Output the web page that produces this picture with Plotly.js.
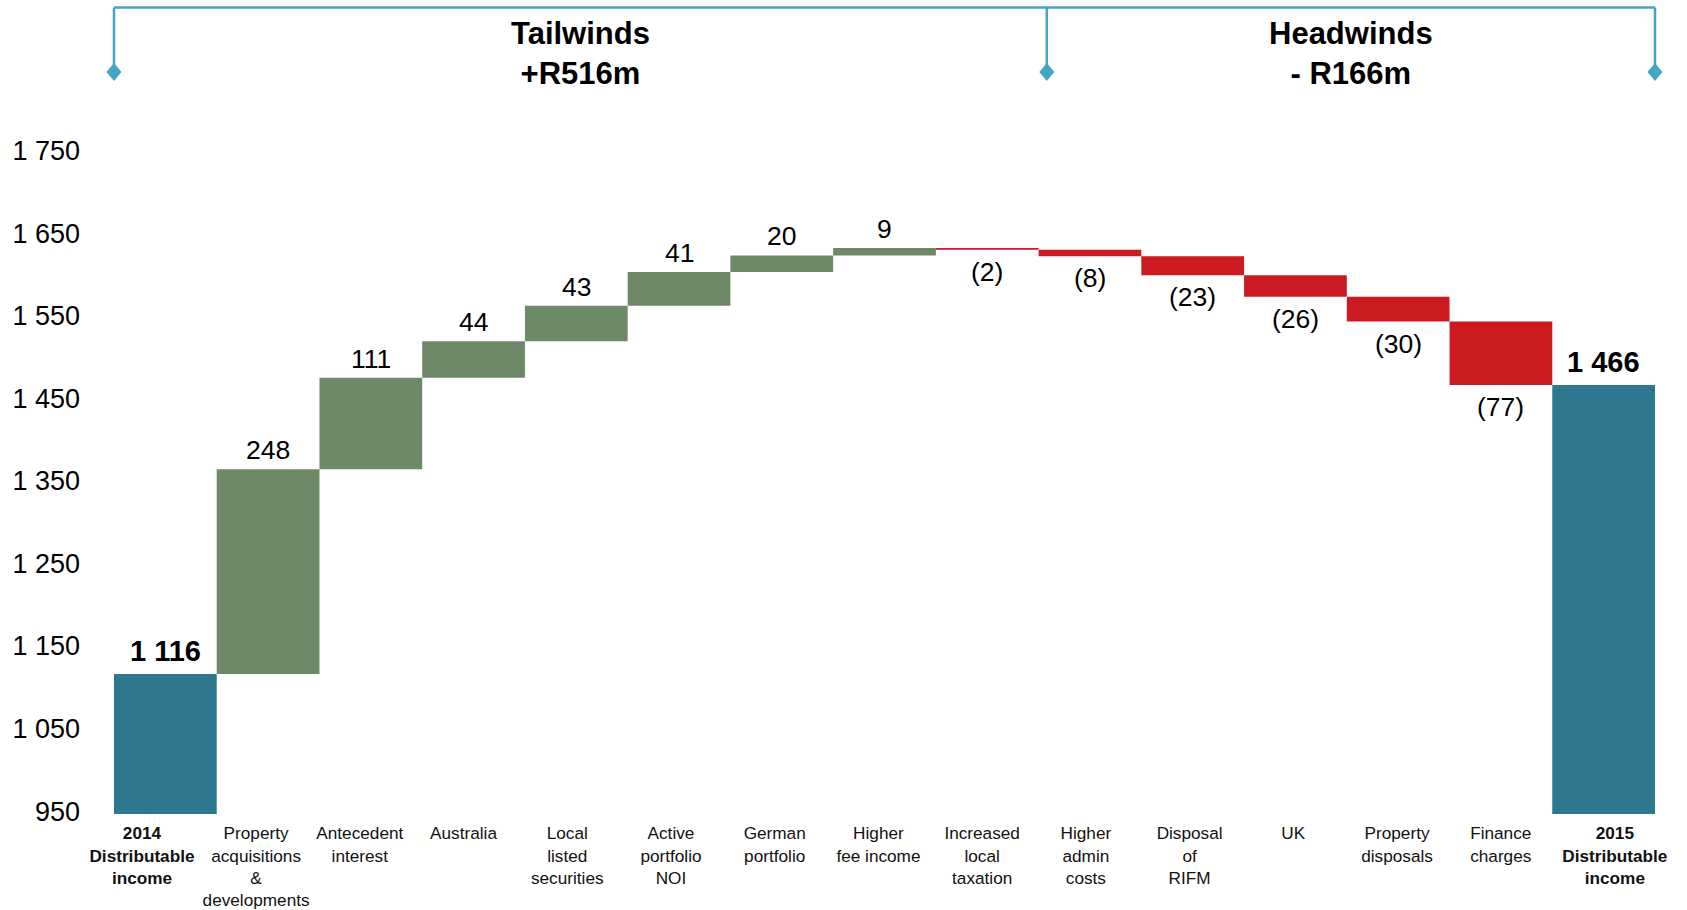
<!DOCTYPE html>
<html>
<head>
<meta charset="utf-8">
<script src="https://cdn.plot.ly/plotly-3.0.1.min.js"></script>
<style>
  html, body { margin: 0; padding: 0; background: #ffffff; }
  #chart { width: 1687px; height: 910px; }
</style>
</head>
<body>
<div id="chart"></div>
<script>
// Distributable income bridge, 2014 -> 2015 (R million)
const categories = [
  '<b>2014<br>Distributable<br>income</b>',
  'Property<br>acquisitions<br>&amp;<br>developments',
  'Antecedent<br>interest',
  'Australia',
  'Local<br>listed<br>securities',
  'Active<br>portfolio<br>NOI',
  'German<br>portfolio',
  'Higher<br>fee income',
  'Increased<br>local<br>taxation',
  'Higher<br>admin<br>costs',
  'Disposal<br>of<br>RIFM',
  'UK',
  'Property<br>disposals',
  'Finance<br>charges',
  '<b>2015<br>Distributable<br>income</b>'
];
const values = [1116, 248, 111, 44, 43, 41, 20, 9, -2, -8, -23, -26, -30, -77, 1466];
const measures = ['absolute', 'relative', 'relative', 'relative', 'relative', 'relative', 'relative',
  'relative', 'relative', 'relative', 'relative', 'relative', 'relative', 'relative', 'absolute'];

const yTickValues = [950, 1050, 1150, 1250, 1350, 1450, 1550, 1650, 1750];
const yTickLabels = ['950', '1 050', '1 150', '1 250', '1 350', '1 450', '1 550', '1 650', '1 750'];

const groupNames = ['Tailwinds', 'Headwinds'];

const COLORS = {
  total: '#2E788F',
  up: '#6E8967',
  down: '#CC1A21',
  bracket: '#45A5C6',
  text: '#000000'
};
const FONT = 'Liberation Sans, Arial, Helvetica, sans-serif';

function withSpaces(v) {
  return String(v).replace(/\B(?=(\d{3})+(?!\d))/g, ' ');
}

// running level at the end of each step
const ends = [];
let level = 0;
values.forEach((v, i) => {
  level = measures[i] === 'absolute' ? v : level + v;
  ends.push(level);
});

const tailTotal = values.filter((v, i) => measures[i] === 'relative' && v > 0).reduce((a, b) => a + b, 0);
const headTotal = values.filter((v, i) => measures[i] === 'relative' && v < 0).reduce((a, b) => a - b, 0);

const n = categories.length;

const steps = {
  type: 'waterfall',
  x: categories.map((c, i) => i),
  y: values,
  measure: measures,
  textinfo: 'none',
  hoverinfo: 'skip',
  connector: { visible: false },
  increasing: { marker: { color: COLORS.up, line: { width: 0 } } },
  decreasing: { marker: { color: COLORS.down, line: { width: 0 } } },
  totals: { marker: { color: COLORS.total, line: { width: 0 } } },
  cliponaxis: false
};

// carrier for the category label axis (labels sit on a slightly wider pitch than the bars)
const labelCarrier = {
  type: 'scatter', mode: 'markers',
  x: [0, n - 1], y: [yTickValues[0], yTickValues[0]],
  xaxis: 'x2', yaxis: 'y',
  marker: { opacity: 0, size: 1 },
  hoverinfo: 'skip', showlegend: false
};

// the bold end labels are nudged outward
const labelPos = categories.map((c, i) => i === 0 ? i - 0.1 : (i === n - 1 ? i + 0.1 : i));

// value labels on the bars
const annotations = values.map((v, i) => {
  let text, yshift, size = 26.5;
  if (measures[i] === 'absolute') {
    text = '<b>' + withSpaces(v) + '</b>';
    yshift = 23;
    size = 29;
  } else if (v >= 0) {
    text = String(v);
    yshift = 19;
  } else {
    text = '(' + (-v) + ')';
    yshift = -22;
  }
  return {
    x: i, y: ends[i], xref: 'x', yref: 'y',
    text: text, showarrow: false, yshift: yshift,
    xanchor: 'center', yanchor: 'middle',
    font: { family: FONT, size: size, color: COLORS.text }
  };
});

// bracket over the two groups (paper x: bar edges and the split point)
const bracketTop = 1.1217;
const bracketFoot = 1.032;
const bracketX = [0, 9.08 / n, 1];

annotations.push({
  x: (bracketX[0] + bracketX[1]) / 2, y: 1.0575, xref: 'paper', yref: 'paper',
  text: '<b>' + groupNames[0] + '<br>+R' + tailTotal + 'm</b>', showarrow: false,
  xanchor: 'center', yanchor: 'middle',
  font: { family: FONT, size: 31, color: COLORS.text }
});
annotations.push({
  x: (bracketX[1] + bracketX[2]) / 2, y: 1.0575, xref: 'paper', yref: 'paper',
  text: '<b>' + groupNames[1] + '<br>- R' + headTotal + 'm</b>', showarrow: false,
  xanchor: 'center', yanchor: 'middle',
  font: { family: FONT, size: 31, color: COLORS.text }
});

const shapes = [{
  type: 'line', xref: 'paper', yref: 'paper',
  x0: bracketX[0], x1: bracketX[2], y0: bracketTop, y1: bracketTop,
  line: { color: COLORS.bracket, width: 2.5 }
}];
bracketX.forEach(bx => {
  shapes.push({
    type: 'line', xref: 'paper', yref: 'paper',
    x0: bx, x1: bx, y0: bracketTop, y1: bracketFoot,
    line: { color: COLORS.bracket, width: 2.5 }
  });
  shapes.push({
    type: 'path', xref: 'paper', yref: 'paper',
    xsizemode: 'pixel', ysizemode: 'pixel',
    xanchor: bx, yanchor: bracketFoot,
    path: 'M 0 9 L 7.5 0 L 0 -9 L -7.5 0 Z',
    fillcolor: COLORS.bracket, line: { width: 0 }
  });
});

const layout = {
  width: 1687,
  height: 910,
  margin: { l: 114, r: 32, t: 95, b: 96 },
  paper_bgcolor: '#ffffff',
  plot_bgcolor: '#ffffff',
  showlegend: false,
  waterfallgap: 0,
  font: { family: FONT, color: COLORS.text },
  xaxis: {
    type: 'linear',
    range: [-0.5, n - 0.5],
    showgrid: false, zeroline: false, showline: false,
    ticks: '', showticklabels: false
  },
  xaxis2: {
    type: 'linear',
    overlaying: 'x', anchor: 'y', side: 'bottom',
    range: [-0.3697, 14.487],
    showgrid: false, zeroline: false, showline: false,
    ticks: '', ticklabelstandoff: 7,
    tickmode: 'array', tickvals: labelPos, ticktext: categories,
    tickfont: { family: FONT, size: 17.2, color: '#111111' },
    tickangle: 0
  },
  yaxis: {
    range: [946.6, 1817.3],
    showgrid: false, zeroline: false, showline: false,
    ticks: '', ticklabelstandoff: 33,
    tickmode: 'array', tickvals: yTickValues, ticktext: yTickLabels,
    tickfont: { family: FONT, size: 27, color: COLORS.text }
  },
  annotations: annotations,
  shapes: shapes
};

Plotly.newPlot('chart', [steps, labelCarrier], layout, { displayModeBar: false, staticPlot: true });
</script>
</body>
</html>
